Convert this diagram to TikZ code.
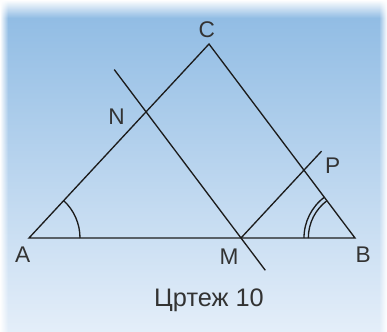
\documentclass[tikz,border=0pt]{standalone}
\usepackage{fontspec}
\setmainfont{Liberation Sans}
\usetikzlibrary{calc,angles,fadings}
\definecolor{figink}{HTML}{1C1C1C}
\definecolor{figtext}{HTML}{333333}
\definecolor{skytop}{HTML}{8DBAE3}
\definecolor{skybottom}{HTML}{E4EEF9}
\tikzfading[name=fadefromtop,top color=transparent!0,bottom color=transparent!100]
\tikzfading[name=fadefromleft,left color=transparent!0,right color=transparent!100]
\tikzfading[name=fadefromright,left color=transparent!100,right color=transparent!0]

\begin{document}
\begin{tikzpicture}[x=0.75pt,y=0.75pt,
    side/.style={figink,line width=1pt},
    ptlabel/.style={text=figtext,font=\fontsize{17}{19}\selectfont},
    anglemark/.style={draw=figink,line width=1pt}]
    \useasboundingbox (0,0) rectangle (387,332);
    % background
    \shade[top color=skytop,bottom color=skybottom] (0,0) rectangle (387,332);
    \fill[white,path fading=fadefromtop] (0,314) rectangle (387,332);
    \fill[white,path fading=fadefromleft] (0,0) rectangle (8,332);
    \fill[white,path fading=fadefromright] (379,0) rectangle (387,332);
    % triangle and parallels
    \coordinate (A) at (29,94);
    \coordinate (B) at (355,94);
    \coordinate (C) at (209,288);
    \coordinate (M) at (241,94);
    \coordinate (Mup) at ($(M)+(C)-(B)$);
    \coordinate (Mright) at ($(M)+(C)-(A)$);
    \coordinate (N) at (intersection of A--C and M--Mup);
    \coordinate (P) at (intersection of B--C and M--Mright);
    \coordinate (nTop) at ($(M)!1.335!(N)$);
    \coordinate (mLow) at ($(N)!1.256!(M)$);
    \coordinate (pEnd) at ($(M)!1.28!(P)$);
    \draw[side] (A) -- (B) -- (C) -- cycle;
    \draw[side] (nTop) -- (mLow);
    \draw[side] (M) -- (pEnd);
    \pic[anglemark,angle radius=38.25pt] {angle=B--A--C};
    \pic[anglemark,angle radius=38.25pt] {angle=C--B--A};
    \pic[anglemark,angle radius=35pt] {angle=C--B--A};
    % labels
    \node[ptlabel] (labA) at ($(A)+(-6.3,-16.7)$) {A};
    \node[ptlabel] (labB) at ($(B)+(8.3,-16.7)$) {B};
    \node[ptlabel] (labC) at ($(C)+(-2.3,14)$) {C};
    \node[ptlabel] (labN) at ($(N)+(-29.5,-4.9)$) {N};
    \node[ptlabel] (labM) at ($(M)+(-12,-18.7)$) {M};
    \node[ptlabel] (labP) at ($(P)+(28.7,4.5)$) {P};
    \node[text=figtext,font=\fontsize{19}{21}\selectfont,anchor=base] (caption)
      at (209,25.3) {Цртеж 10};
\end{tikzpicture}
\end{document}
